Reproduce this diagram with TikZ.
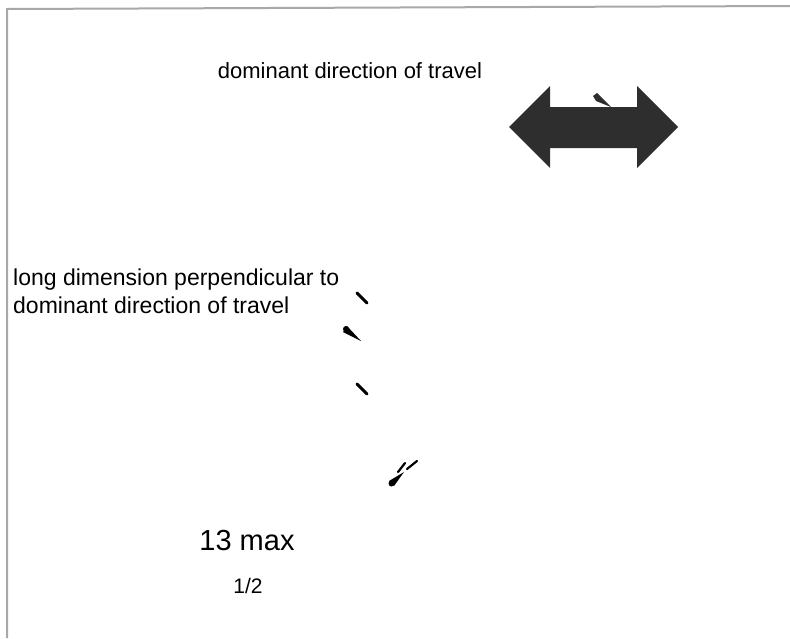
\documentclass[tikz,border=0pt]{standalone}
\usepackage{fontspec}
\setmainfont{Liberation Sans}
\definecolor{framegray}{HTML}{A8A8A8}
\definecolor{arrowgray}{HTML}{2E2E2E}
\begin{document}
\begin{tikzpicture}[x=1pt,y=1pt]
\tikzstyle{every node}+=[inner sep=0pt]
\tikzstyle{frameline}=[framegray, line width=2pt]
\tikzstyle{tick}=[black, line width=3pt, line cap=round]
\tikzstyle{label}=[anchor=base, text=black]
\useasboundingbox (0,0) rectangle (790,-638);
% frame
\draw [frameline] (7,-638) -- (7,-9) -- (790,-6);
% labels
\node [label, font=\fontsize{22}{26}\selectfont] (travel) at (350,-78) {dominant direction of travel};
\node [label, anchor=base west, align=left, font=\fontsize{23}{28}\selectfont] (longdim) at (13,-313) {long dimension perpendicular to\\dominant direction of travel};
\node [label, font=\fontsize{29}{34}\selectfont] (max) at (247,-550) {13 max};
\node [label, font=\fontsize{21}{25}\selectfont] (half) at (248,-593) {1/2};
% double arrow
\fill [arrowgray] (509,-127) -- (550,-86) -- (550,-107) -- (637,-107) -- (637,-86) -- (678,-127)
  -- (637,-168) -- (637,-148) -- (550,-148) -- (550,-168) -- cycle;
\fill [arrowgray] (593,-96) -- (596,-101) -- (611,-107) -- (597,-93) -- cycle;
% marks
\draw [tick] (357,-293) -- (367,-303);
\fill [black] (343,-332) -- (347,-326) -- (361,-341) -- cycle;
\fill [black] (346,-329) circle (3);
\draw [tick] (357,-384) -- (367,-394);
\fill [black] (389,-481) -- (394,-486) -- (404,-472) -- cycle;
\fill [black] (391.5,-483.5) circle (3);
\draw [tick, line width=2.2pt] (398,-472) -- (405,-463);
\draw [tick, line width=2.2pt] (407,-469) -- (417,-461);
\end{tikzpicture}
\end{document}
